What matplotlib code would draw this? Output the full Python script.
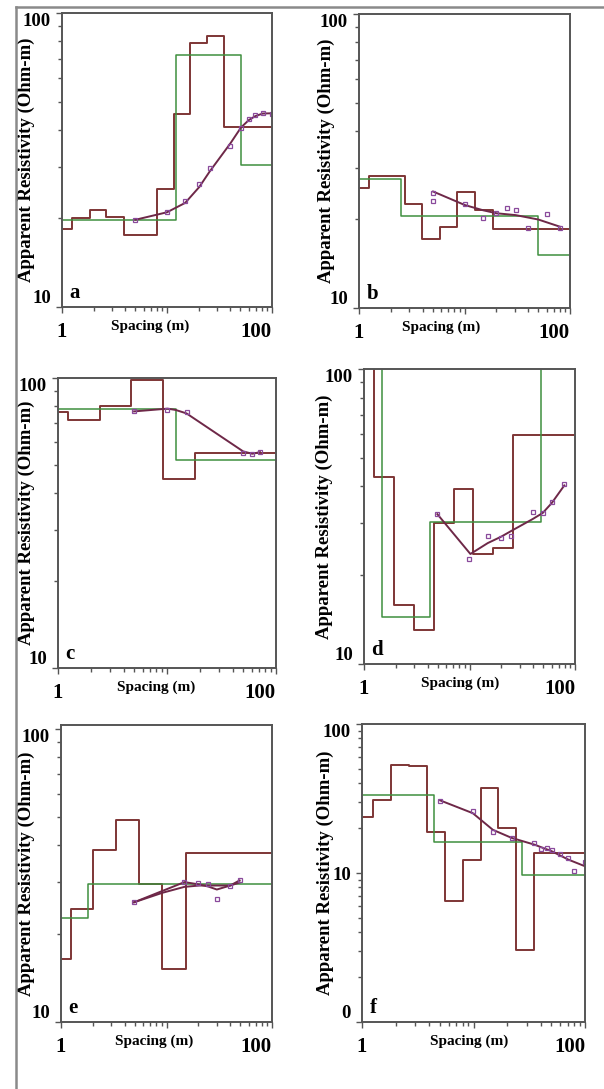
import matplotlib
matplotlib.use("Agg")
import matplotlib.pyplot as plt
from matplotlib.lines import Line2D
from matplotlib.ticker import LogLocator, NullFormatter

plt.rcParams['font.family'] = ['Liberation Serif', 'DejaVu Serif']
plt.rcParams['font.weight'] = 'bold'

# ---- data ----
# model 1 (maroon steps): layer tops (m) and resistivity (Ohm-m)
a_m1_depth = [1, 1.245, 1.83, 2.64, 3.87, 8.03, 11.6, 16.7, 24.0, 34.7]
a_m1_rho = [18.4, 20.1, 21.4, 20.3, 17.6, 25.1, 45.5, 79.0, 83.7, 41.0]
a_m2_depth = [1, 12.2, 50.7]
a_m2_rho = [19.7, 71.8, 30.3]
a_obs_x = [5.0, 10.0, 14.9, 20.3, 25.5, 40.1, 50.7, 60.0, 69.4, 81.5, 100]
a_obs_y = [19.7, 21.0, 22.9, 26.3, 29.7, 35.4, 40.6, 43.5, 44.9, 45.8, 45.5]
a_calc_x = [5.0, 10.0, 14.9, 20.3, 25.5, 40.1, 50.7, 60.0, 69.4, 81.5, 100]
a_calc_y = [19.8, 21.0, 22.6, 25.6, 28.9, 36.0, 40.8, 43.2, 44.6, 45.5, 45.6]

b_m1_depth = [1, 1.24, 2.71, 3.99, 5.83, 8.52, 12.7, 18.7]
b_m1_rho = [25.6, 28.2, 22.6, 17.2, 18.9, 24.8, 21.6, 18.5]
b_m2_depth = [1, 2.49, 50.1]
b_m2_rho = [27.5, 20.6, 15.2]
b_obs_x = [5.04, 5.04, 10.07, 15.0, 20.1, 25.1, 30.5, 40.2, 60.0, 80.4]
b_obs_y = [24.7, 23.2, 22.6, 20.3, 21.0, 21.8, 21.5, 18.7, 20.8, 18.7]
b_calc_x = [5.04, 10.07, 15.0, 20.1, 30.5, 50.0, 80.4]
b_calc_y = [24.9, 22.4, 21.5, 21.0, 20.7, 20.0, 18.9]

c_m1_depth = [1, 1.24, 2.45, 4.72, 9.22, 18.0]
c_m1_rho = [76.2, 71.5, 79.9, 98.7, 44.8, 55.1]
c_m2_depth = [1, 12.05]
c_m2_rho = [78.4, 52.0]
c_obs_x = [4.99, 10.1, 15.1, 50.1, 60.6, 71.3]
c_obs_y = [76.7, 77.4, 76.2, 55.1, 54.8, 55.4]
c_calc_x = [4.99, 10.1, 12.0, 15.1, 50.1, 60.6, 71.3]
c_calc_y = [76.7, 78.4, 77.6, 75.5, 55.8, 54.8, 55.5]

d_m1_depth = [1, 1.24, 1.92, 2.98, 4.61, 7.13, 10.9, 16.8, 26.0]
d_m1_rho = [150, 43.2, 15.9, 13.0, 30.0, 39.2, 23.6, 24.7, 59.8]
d_m2_depth = [1, 1.47, 4.22, 47.3]
d_m2_rho = [150, 14.4, 30.4, 150]
d_obs_x = [4.96, 9.89, 14.9, 19.9, 24.7, 39.7, 49.4, 60.1, 79.2]
d_obs_y = [32.2, 22.7, 27.2, 26.8, 27.2, 32.7, 32.6, 35.3, 40.7]
d_calc_x = [4.96, 10.2, 14.9, 19.9, 26.0, 39.7, 49.4, 60.1, 79.2]
d_calc_y = [32.2, 23.6, 25.7, 27.0, 28.5, 31.0, 32.5, 35.1, 40.3]

e_m1_depth = [1, 1.24, 2.03, 3.33, 5.54, 9.16, 15.3]
e_m1_rho = [16.4, 24.2, 38.7, 48.7, 29.6, 15.2, 37.8]
e_m2_depth = [1, 1.82]
e_m2_rho = [22.7, 29.5]
e_obs_x = [4.93, 14.8, 19.8, 24.7, 30.0, 40.2, 49.3]
e_obs_y = [25.6, 30.0, 29.9, 29.6, 26.3, 29.1, 30.6]
e_calc1_x = [4.93, 14.8, 19.8, 24.7, 30.0, 40.2, 49.3]
e_calc1_y = [25.6, 30.0, 29.5, 29.0, 28.3, 29.2, 30.4]
e_calc2_x = [4.93, 9.2, 14.8, 20.5, 40.2, 49.3]
e_calc2_y = [25.6, 27.6, 28.9, 29.2, 29.2, 29.9]

f_m1_depth = [1, 1.25, 1.82, 2.64, 3.82, 5.50, 7.97, 11.6, 16.7, 24.1, 35.2]
f_m1_rho = [23.6, 31.0, 53.1, 52.3, 18.7, 6.53, 12.3, 37.1, 20.2, 3.03, 13.7]
f_m2_depth = [1, 4.38, 27.1]
f_m2_rho = [33.5, 16.1, 9.65]
f_obs_x = [5.03, 9.86, 14.9, 22.0, 35.2, 40.1, 45.4, 50.3, 59.7, 70.9, 80.3, 100]
f_obs_y = [30.2, 25.9, 18.8, 17.2, 15.9, 14.5, 14.7, 14.3, 13.5, 12.6, 10.3, 11.8]
f_calc_x = [5.03, 9.86, 14.9, 22.0, 35.2, 50.3, 70.9, 100]
f_calc_y = [30.7, 25.2, 19.5, 17.2, 15.5, 14.0, 12.3, 11.1]

# ---- layout (pixel boxes left, top, right, bottom) ----
W, H = 604, 1089
boxes = {
    'a': (62, 13, 272, 307), 'b': (359, 14, 570, 308),
    'c': (58, 378, 276, 668), 'd': (364, 369, 575, 664),
    'e': (61, 725, 272, 1022), 'f': (362, 724, 585, 1022),
}
xlab_pos = {'a': 0.42, 'b': 0.39, 'c': 0.45, 'd': 0.455, 'e': 0.44, 'f': 0.48}
ylab_off = {'a': 27, 'b': 24, 'c': 23, 'd': 31, 'e': 26, 'f': 28}

panels = [
    ('a', a_m1_depth, a_m1_rho, a_m2_depth, a_m2_rho, a_obs_x, a_obs_y, [(a_calc_x, a_calc_y)], (10, 100)),
    ('b', b_m1_depth, b_m1_rho, b_m2_depth, b_m2_rho, b_obs_x, b_obs_y, [(b_calc_x, b_calc_y)], (10, 100)),
    ('c', c_m1_depth, c_m1_rho, c_m2_depth, c_m2_rho, c_obs_x, c_obs_y, [(c_calc_x, c_calc_y)], (10, 100)),
    ('d', d_m1_depth, d_m1_rho, d_m2_depth, d_m2_rho, d_obs_x, d_obs_y, [(d_calc_x, d_calc_y)], (10, 100)),
    ('e', e_m1_depth, e_m1_rho, e_m2_depth, e_m2_rho, e_obs_x, e_obs_y,
     [(e_calc1_x, e_calc1_y), (e_calc2_x, e_calc2_y)], (10, 103)),
    ('f', f_m1_depth, f_m1_rho, f_m2_depth, f_m2_rho, f_obs_x, f_obs_y, [(f_calc_x, f_calc_y)], (1, 100)),
]

maroon = '#7e3535'
green = '#3f8f3f'
purple = '#8a4a9c'
calc_col = '#6e2848'
spine_col = '#555555'

fig = plt.figure(figsize=(W / 100, H / 100), dpi=100)

# outer frame (left and top)
fig.add_artist(Line2D([16 / W, 16 / W], [0, 1 - 7 / H], color='#8a8a8a', lw=1.8))
fig.add_artist(Line2D([16 / W, 1], [1 - 7 / H, 1 - 7 / H], color='#8a8a8a', lw=1.8))

for name, m1x, m1y, m2x, m2y, ox, oy, calcs, ylim in panels:
    l, t, r, b = boxes[name]
    ax = fig.add_axes([l / W, 1 - b / H, (r - l) / W, (b - t) / H])
    ax.set_xscale('log')
    ax.set_yscale('log')

    ax.step(m1x + [100], m1y + [m1y[-1]], where='post', color=maroon, lw=1.4)
    ax.step(m2x + [100], m2y + [m2y[-1]], where='post', color=green, lw=1.1)
    for cx, cy in calcs:
        ax.plot(cx, cy, color=calc_col, lw=1.4)
    ax.plot(ox, oy, 's', ms=3.2, mfc='none', mec=purple, mew=0.9, ls='none')

    ax.set_xlim(1, 100)
    ax.set_ylim(*ylim)

    ax.set_xticks([1, 10, 100], ['1', '', '100'])
    ax.xaxis.set_minor_locator(LogLocator(base=10, subs=range(2, 10)))
    ax.xaxis.set_minor_formatter(NullFormatter())
    ax.get_xticklabels()[-1].set_ha('right')

    if name == 'f':
        ax.set_yticks([1, 10, 100], ['0', '10', '100'])
    else:
        ax.set_yticks([10, 100], ['10', '100'])
    ax.yaxis.set_minor_locator(LogLocator(base=10, subs=range(2, 10)))
    ax.yaxis.set_minor_formatter(NullFormatter())
    ylabs = ax.get_yticklabels()
    ylabs[0].set_va('bottom')
    ylabs[-1].set_va('top')

    ax.tick_params(which='both', direction='out', colors=spine_col, labelcolor='black', width=1)
    ax.tick_params(which='major', length=4)
    ax.tick_params(which='minor', length=3)
    ax.tick_params(axis='x', pad=7, labelsize=15)
    ax.tick_params(axis='y', pad=4, labelsize=13.5)
    for lab in ax.get_xticklabels() + ax.get_yticklabels():
        lab.set_fontweight('bold')

    for sp in ax.spines.values():
        sp.set_color(spine_col)
        sp.set_linewidth(1.4)

    ax.set_ylabel('Apparent Resistivity (Ohm-m)', fontsize=13.5, fontweight='bold')
    ax.yaxis.set_label_coords(-ylab_off[name] / (r - l), 0.5)
    ax.text(xlab_pos[name], -0.065, 'Spacing (m)', transform=ax.transAxes,
            ha='center', va='center', fontsize=11, fontweight='bold')
    ax.text(0.035, 0.015, name, transform=ax.transAxes, ha='left', va='bottom',
            fontsize=15, fontweight='bold')

fig.savefig('out.png', dpi=100)
